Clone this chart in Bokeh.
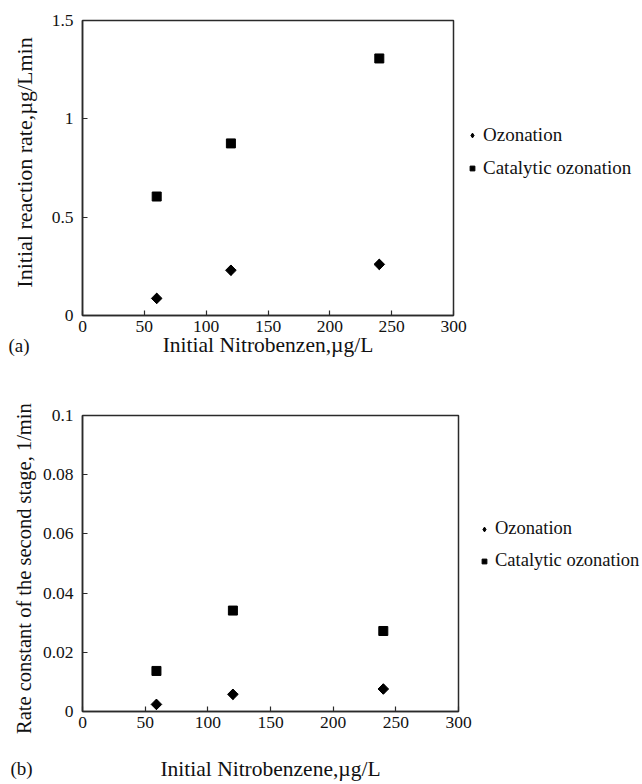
from bokeh.plotting import figure
from bokeh.layouts import column
from bokeh.models import Range1d, FixedTicker, PrintfTickFormatter, Legend, LegendItem, Label, ColumnDataSource
from bokeh.embed import file_html
from bokeh.resources import INLINE
import math

# ---- data ----
conc_a = [60, 120, 240]
ozonation_a = [0.087, 0.23, 0.26]
catalytic_a = [0.605, 0.875, 1.307]

conc_b = [59, 120, 240]
ozonation_b = [0.0024, 0.0058, 0.0076]
catalytic_b = [0.0137, 0.0341, 0.0272]

x_ticks = [0, 50, 100, 150, 200, 250, 300]
y_ticks_a = [0, 0.5, 1, 1.5]
y_ticks_b = [0, 0.02, 0.04, 0.06, 0.08, 0.1]

FONT = "Liberation Serif"
AXIS_COLOR = "#2a2a2a"
NB = "\u00a0"


def make_fig(xs, oz, cat, yr, yticks, ylabel, xlabel, panel, dims, legend_loc,
             label_std, ylabel_std, panel_pos, panel_side, ylabel_size, legend_size):
    (w, fw, fh, bl, bt, bb) = dims
    p = figure(frame_width=fw, frame_height=fh,
               x_range=Range1d(0, 300), y_range=Range1d(*yr),
               output_backend="svg", toolbar_location=None,
               min_border_left=bl, min_border_top=bt, min_border_bottom=bb,
               min_border_right=w - bl - fw)
    p.grid.visible = False
    p.outline_line_color = AXIS_COLOR
    p.outline_line_width = 1.5
    p.background_fill_color = "white"
    p.border_fill_color = "white"
    for ax in (p.xaxis[0], p.yaxis[0]):
        ax.axis_line_color = AXIS_COLOR
        ax.axis_line_width = 1.5
        ax.major_tick_line_color = AXIS_COLOR
        ax.major_tick_line_width = 1.2
        ax.major_tick_in = 5
        ax.major_tick_out = 0
        ax.minor_tick_line_color = None
        ax.major_label_text_font = FONT
        ax.major_label_text_font_size = "17.5px"
        ax.major_label_text_color = "#111111"
        ax.axis_label_text_font = FONT
        ax.axis_label_text_font_size = "21.5px"
        ax.axis_label_text_font_style = "normal"
        ax.axis_label_text_color = "#111111"
    p.yaxis[0].axis_label_text_font_size = ylabel_size
    p.xaxis[0].ticker = FixedTicker(ticks=x_ticks)
    p.yaxis[0].ticker = FixedTicker(ticks=yticks)
    p.yaxis[0].formatter = PrintfTickFormatter(format="%g")
    p.xaxis[0].major_label_standoff = 5
    p.yaxis[0].major_label_standoff = 9
    p.xaxis[0].axis_label = xlabel
    p.yaxis[0].axis_label = ylabel
    p.xaxis[0].axis_label_standoff = label_std
    p.yaxis[0].axis_label_standoff = ylabel_std

    src_o = ColumnDataSource(dict(x=xs, y=oz))
    src_c = ColumnDataSource(dict(x=xs, y=cat))
    # legend key glyph for the diamonds (hidden beneath the marks drawn next)
    r_o_key = p.scatter("x", "y", source=src_o, marker="diamond", size=10,
                        fill_color="black", line_color="black")
    # data marks: diamonds drawn as squares turned by 45 degrees
    p.scatter("x", "y", source=src_o, marker="square", angle=math.pi / 4, size=7.5,
              fill_color="black", line_color="black")
    r_c = p.scatter("x", "y", source=src_c, marker="square", size=9,
                    fill_color="black", line_color="black")

    legend = Legend(items=[LegendItem(label="Ozonation", renderers=[r_o_key]),
                           LegendItem(label="Catalytic ozonation", renderers=[r_c])],
                    location=legend_loc, padding=0, margin=0, spacing=11,
                    glyph_width=12, glyph_height=16, label_height=16,
                    label_standoff=5, border_line_color=None,
                    background_fill_alpha=0,
                    label_text_font=FONT, label_text_font_size=legend_size,
                    label_text_color="#111111")
    p.add_layout(legend, "right")
    p.add_layout(Label(x=panel_pos[0], y=panel_pos[1], x_units="canvas", y_units="canvas",
                       text=panel, text_font=FONT, text_font_size="19px",
                       text_baseline="middle", text_align="left", text_color="#111111"),
                 panel_side)
    return p


p1 = make_fig(conc_a, ozonation_a, catalytic_a, (0, 1.5), y_ticks_a,
              NB * 2 + "Initial reaction rate,\u00b5g/Lmin", "Initial Nitrobenzen,\u00b5g/L", "(a)",
              (642, 371, 295, 81, 20, 74), (13, 136), -2, 12, (8, 345), "below", "22px", "19px")
p2 = make_fig(conc_b, ozonation_b, catalytic_b, (0, 0.1), y_ticks_b,
              "Rate constant of the second stage, 1/min" + NB * 2, "Initial Nitrobenzene,\u00b5g/L", "(b)",
              (642, 376, 296, 82, 26, 72), (20, 140), 26, 5, (10, 379), "above", "20.5px", "18.5px")

layout = column(p1, p2, spacing=0)
open("out.html", "w").write(file_html(layout, INLINE))
